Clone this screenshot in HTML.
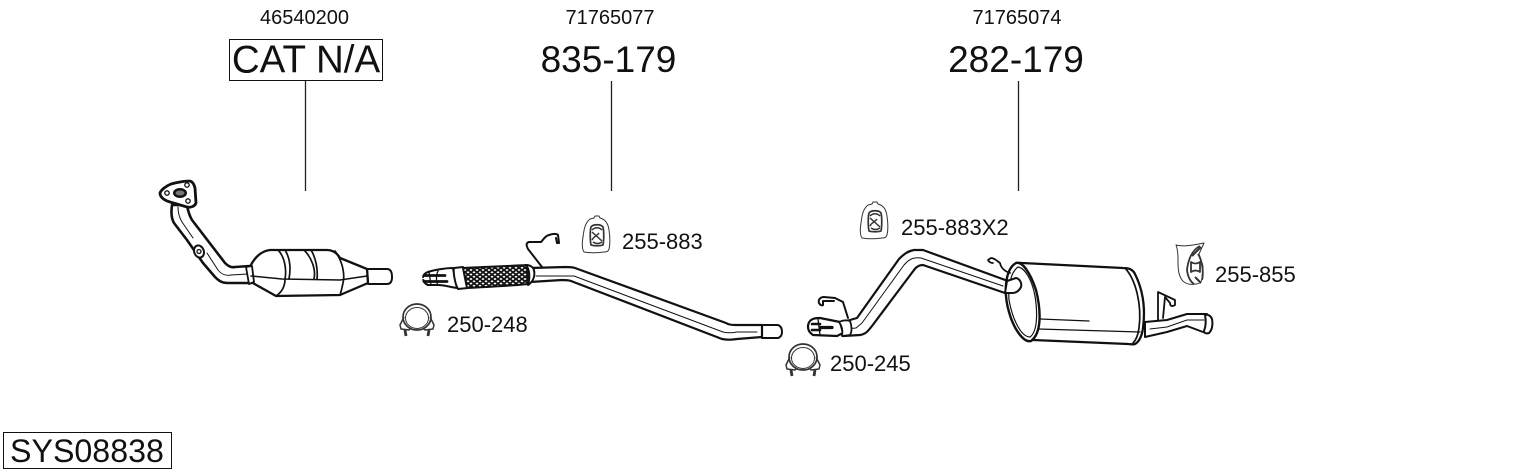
<!DOCTYPE html>
<html>
<head>
<meta charset="utf-8">
<style>
html,body{margin:0;padding:0;background:#fff}
svg{display:block}
text{font-family:"Liberation Sans",sans-serif;fill:#111}
</style>
</head>
<body>
<svg width="1530" height="474" viewBox="0 0 1530 474" xmlns="http://www.w3.org/2000/svg">
<defs>
<pattern id="mesh" width="6" height="4.500" patternUnits="userSpaceOnUse">
<rect width="6" height="4.500" fill="#fff"/>
<path d="M0 0L6 4.500M6 0L0 4.500" stroke="#111" stroke-width="1.700"/>
</pattern>
<g id="hanger" fill="none" stroke="#333" stroke-linejoin="round">
<path d="M2 37C0 34 0 28 1 22C2 14 3 8 8 4L12 3L13 1L17 1L18 3C22 4 26 7 27 15C28 22 28 30 27 34C26 37 24 37 22 37C15 38 8 38 2 37Z" stroke-width="1"/>
<path d="M9 30C8 25 8 15 9 12C11 9 19 9 21 12C22 16 22 25 21 30C18 31 12 31 9 30Z" stroke-width="1.700"/>
<path d="M10 15C13 12 17 12 20 15M10 17L20 26M10 25C12 21 15 21 17 18M11 27C14 29 17 29 20 27" stroke-width="1.500"/>
</g>
<g id="clamp" fill="none" stroke="#333" stroke-linejoin="round">
<ellipse cx="17" cy="14" rx="14" ry="13" stroke-width="1.700"/>
<ellipse cx="17" cy="15" rx="11.500" ry="10.500" stroke-width="1"/>
<path d="M4 14L0 22L1 26L9 27L11 25M30 14L34 22L33 26L25 27L23 25" stroke-width="1.500"/>
<path d="M5 27L6 33M29 27L28 33" stroke-width="2.800"/>
</g>
</defs>

<text x="304.500" y="24" font-size="20" text-anchor="middle">46540200</text>
<text x="610" y="24" font-size="20" text-anchor="middle">71765077</text>
<text x="1017" y="24" font-size="20" text-anchor="middle">71765074</text>
<rect x="229.500" y="39.500" width="153" height="41" fill="none" stroke="#111" stroke-width="1"/>
<text x="306" y="72.500" font-size="38.500" text-anchor="middle">CAT N/A</text>
<text x="608.500" y="72" font-size="37" text-anchor="middle">835-179</text>
<text x="1016" y="72" font-size="37" text-anchor="middle">282-179</text>
<path d="M305.500 81V191M611.500 81V191M1018.500 81V191" stroke="#222" stroke-width="1.300" fill="none"/>
<rect x="3.500" y="432.500" width="168" height="36" fill="none" stroke="#111" stroke-width="1"/>
<text x="10" y="462" font-size="32.200">SYS08838</text>
<text x="622" y="249" font-size="22">255-883</text>
<text x="901" y="235" font-size="22">255-883X2</text>
<text x="1215" y="282" font-size="22">255-855</text>
<text x="447" y="332" font-size="22">250-248</text>
<text x="830" y="371" font-size="22">250-245</text>

<!-- front pipe + catalyst -->
<g fill="#fff" stroke="#111" stroke-linejoin="round" stroke-linecap="round">
<path d="M172 205C171 212 171 218 174 223L187 240L203 263L215 277C219 281 222 283 228 283L251 283L250 266L235 267C231 268 228 266 225 263L192 220C189 215 188 211 187 205Z" stroke-width="2.600"/>
<path d="M178 207C178 213 179 217 182 222L193 238M207 253L218 270C222 275 226 276 231 275L248 274" fill="none" stroke-width="1"/>
<path d="M160 193C161 190 166 186 171 184C178 182 186 181 189 181C192 181 194 184 195 188L196 203C195 206 191 208 187 207L170 202C166 201 160 198 160 193Z" stroke-width="2.800"/>
<ellipse cx="180" cy="193" rx="7" ry="5" fill="#111" stroke="none"/>
<ellipse cx="180" cy="193" rx="4.500" ry="2.500" fill="#777" stroke="none"/>
<circle cx="167" cy="193" r="2.200" stroke-width="1.300"/>
<circle cx="187" cy="185" r="2.200" stroke-width="1.300"/>
<circle cx="188" cy="201" r="2.200" stroke-width="1.300"/>
<ellipse cx="199" cy="251.500" rx="4.800" ry="6.200" transform="rotate(-20 199 251.500)" stroke-width="2"/>
<circle cx="199" cy="251.500" r="2" stroke-width="1.300"/>
<path d="M367 269H387C391 269 392 273 392 277C392 281 391 284 387 284H368Z" stroke-width="2"/>
<path d="M250 267C254 258 261 251 270 250L327 250C333 250 337 253 340 258L367 269L368 283L340 295L276 296L251 282Z" stroke-width="2.300"/>
<path d="M246 267L252 266L254 282L249 284Z" stroke-width="1.800"/>
<path d="M251 276L282 279L340 280L367 276" fill="none" stroke-width="1.500"/>
<path d="M278 250C284 256 287 268 285 279C285 286 282 292 276 296M285 250C290 258 291 268 289 279M304 250C312 258 316 270 314 279M311 250C316 258 318 270 317 279M335 251C343 262 345 275 343 283C342 288 341 292 340 295" fill="none" stroke-width="1.700"/>
</g>

<!-- middle pipe -->
<g fill="#fff" stroke="#111" stroke-linejoin="round" stroke-linecap="round">
<path d="M542 267L528 249C526 245 526 243 529 242L541 242C543 240 545 236 549 235C552 234 556 233 558 235L559 243L557 243L556 238" fill="none" stroke-width="2"/>
<path d="M760 325H778C781 326 782 329 782 332C782 335 781 337 778 338L762 338Z" stroke-width="2"/>
<path d="M530 268L566 267C570 267 572 267 575 268L726 323C729 325 732 325 735 325H762V337L737 339C731 340 727 340 722 339L571 281C568 280 565 280 562 280L530 282Z" stroke-width="2.200"/>
<path d="M536 276H562L574 276L723 332C727 333 732 333 737 332H757" fill="none" stroke-width="1"/>
<path d="M423 278C423 275 425 273 428 272C434 270 445 268 453 268L457 288C450 287 444 285 438 285H428C425 284 423 281 423 278Z" stroke-width="2"/>
<path d="M424 275.500H445M424 281.500H447" stroke-width="2.800" fill="none"/>
<path d="M422 278.500H433" stroke="#fff" stroke-width="1.300" fill="none"/>
<path d="M429 272L431 285M438 271C436 275 436 282 438 285" fill="none" stroke-width="1.300"/>
<path d="M454 268L463 267L468 288L458 289C455 284 453 272 454 268Z" stroke-width="2"/>
<path d="M463 268C484 267 510 266 527 265L528 284C510 286 484 287 467 288Z" fill="url(#mesh)" stroke-width="2"/>
<path d="M526 265C530 265 533 267 534 270C535 275 534 281 528 285C530 278 530 270 526 265Z" stroke-width="2"/>
</g>

<!-- rear pipe -->
<g fill="#fff" stroke="#111" stroke-linejoin="round" stroke-linecap="round">
<path d="M848 318L843 302L835 298L824 297C820 297 818 300 819 303C820 305 822 306 823 305L823 301L834 301" fill="none" stroke-width="2"/>
<path d="M843 322L857 318L899 259C904 254 908 251 914 250C917 250 920 250 923 250L1008 281L1005 293L923 265C919 265 916 267 914 270L872 326C868 331 866 334 860 335L843 336Z" stroke-width="2.200"/>
<path d="M845 329L856 328L862 323L904 265C910 258 915 257 921 258L1003 286" fill="none" stroke-width="1"/>
<path d="M808 327C808 323 810 320 813 319C815 318 818 318 820 318L840 322L843 333L837 336L813 335C810 333 808 330 808 327Z" stroke-width="2.200"/>
<path d="M812 324H820M812 330H820" stroke-width="2.600" fill="none"/>
<path d="M820 327.500H832" stroke-width="3.200" fill="none"/>
<path d="M818 319L820 335" fill="none" stroke-width="1.300"/>
<path d="M839 322C843 320 847 320 850 321C852 326 852 332 850 335L842 336C843 331 842 326 839 322Z" stroke-width="1.800"/>
</g>

<!-- muffler -->
<g fill="#fff" stroke="#111" stroke-linejoin="round" stroke-linecap="round">
<path d="M1145 322L1167 320L1187 314H1207L1208 333L1203 332L1187 326L1167 332L1145 337Z" stroke-width="2"/>
<path d="M1150 329L1167 327L1187 320H1204" fill="none" stroke-width="1"/>
<path d="M1205 315C1208 314 1211 316 1212 319C1213 325 1212 330 1209 333C1206 334 1204 333 1204 331C1206 326 1206 320 1205 315Z" stroke-width="2"/>
<path d="M1158 320L1158 292L1175 300L1175 305C1172 307 1170 306 1170 303L1165 297L1163 318" stroke-width="1.800"/>
<path d="M1022 263L1123 268C1130 268 1133 270 1135 274C1142 288 1146 305 1143 328C1142 336 1139 342 1135 344C1134 345 1131 344 1128 344L1033 340C1022 339 1010 310 1006 290C1006 272 1012 262 1022 263Z" stroke-width="2.300"/>
<path d="M1125 268C1136 280 1142 305 1139 328C1138 336 1136 340 1133 343" fill="none" stroke-width="1.700"/>
<path d="M1040 319L1089 321M1038 329L1140 332" fill="none" stroke-width="1.300"/>
<path d="M1016 263C1022 261 1030 272 1036 290C1041 310 1042 333 1031 341C1024 343 1014 330 1009 312C1004 295 1004 270 1016 263Z" stroke-width="2.400"/>
<path d="M1018 267C1025 268 1032 280 1035 296C1038 315 1037 332 1030 337C1022 337 1013 322 1009 300C1008 285 1011 272 1018 267Z" fill="none" stroke-width="1.200"/>
<path d="M1010 273C1004 271 1001 268 1000 263C996 260 994 258 991 258L988 260C989 262 991 263 993 263" fill="none" stroke-width="1.800"/>
<path d="M1007 281L1016 278C1020 279 1022 283 1021 287C1019 291 1016 293 1012 293L1005 293Z" stroke-width="2"/>
</g>

<use href="#hanger" x="582" y="215"/>
<use href="#hanger" x="860" y="201"/>
<use href="#clamp" x="400" y="303"/>
<use href="#clamp" x="786" y="343"/>

<!-- 255-855 hanger -->
<g fill="none" stroke="#333" stroke-linejoin="round">
<path d="M1176 245C1184 247 1194 245 1204 243L1199 254L1203 266L1202 279C1201 283 1199 284 1196 284C1190 285 1185 284 1182 280C1178 274 1178 268 1178 260C1178 255 1178 250 1176 245Z" fill="#fff" stroke-width="1"/>
<path d="M1200 246C1192 250 1188 260 1187 270C1188 278 1191 282 1194 284M1198 254C1202 260 1204 272 1202 280" stroke-width="1.800"/>
<path d="M1191 262C1194 264 1197 264 1200 262L1200 272C1197 270 1194 270 1191 272Z" stroke-width="1.800"/>
<path d="M1192 256L1201 247M1195 277L1201 283" stroke-width="2"/>
</g>
</svg>
</body>
</html>
